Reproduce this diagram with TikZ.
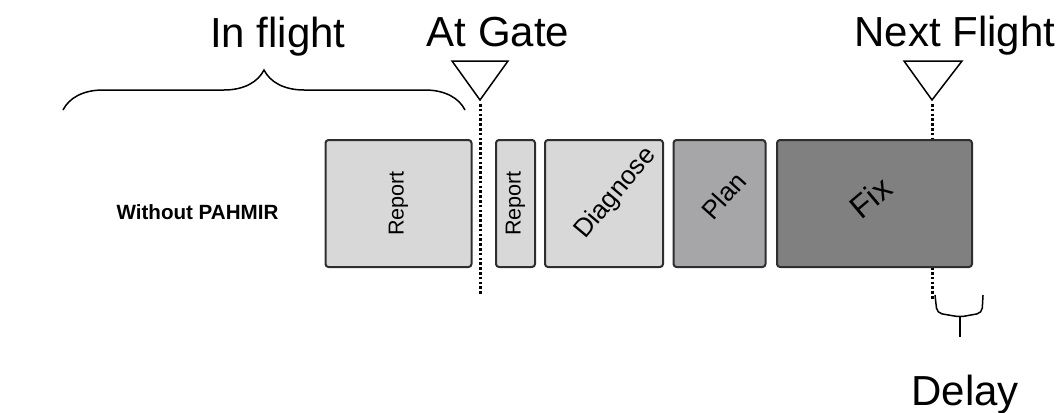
\documentclass[tikz,border=0pt]{standalone}
\usepackage{fontspec}
\setmainfont{Liberation Sans}
\usetikzlibrary{decorations.pathreplacing}

\definecolor{lightbox}{HTML}{D8D8D8}
\definecolor{midbox}{HTML}{A6A6A8}
\definecolor{darkbox}{HTML}{808080}
\definecolor{edge}{HTML}{2E2E2E}

\tikzset{
  taskbox/.style={draw=edge, line width=1pt, rounded corners=1.5pt, inner sep=0pt, minimum height=63.5pt},
  tasklabel/.style={inner sep=0pt, font=\fontsize{10.8}{12}\selectfont},
  marker/.style={draw, line width=0.75pt, line join=miter},
  gateline/.style={line width=1.5pt, dash pattern=on 1.3pt off 1.1pt},
  bigtext/.style={anchor=base, inner sep=0pt, font=\fontsize{21}{24}\selectfont},
}

\begin{document}
\begin{tikzpicture}[x=0.5pt, y=-0.5pt]
\useasboundingbox (0,0) rectangle (1064,412);

% milestones
\coordinate (gateL) at (452,61);
\coordinate (gateR) at (508,61);
\coordinate (gateTip) at (480,100);
\coordinate (gateEnd) at (480,295);
\coordinate (nextL) at (904,61);
\coordinate (nextR) at (962,61);
\coordinate (nextTip) at (932,100);
\coordinate (nextEnd) at (932,300);

\draw[marker] (gateL) -- (gateR) -- (gateTip) -- cycle;
\draw[marker] (nextL) -- (nextR) -- (nextTip) -- cycle;
\draw[gateline] (gateTip) ++(0,4) -- (gateEnd);
\draw[gateline] (nextTip) ++(0,4) -- (nextEnd);

\node[bigtext] (inflight) at (278,47) {In flight};
\node[bigtext] (atgate) at (498,46) {At Gate};
\node[bigtext] (nextflight) at (955,46) {Next Flight};
\node[bigtext] (delay) at (965,405) {Delay};

% in flight brace
\draw[line width=0.75pt, decorate, decoration={brace, amplitude=20pt}] (63,110) -- (465,110);

% delay brace
\draw[line width=0.75pt, rounded corners=2.5pt] (935,295) -- (937,313) -- (960,317) -- (982,313) -- (983,295);
\draw[line width=0.75pt] (960,317) -- (960,337);

\node[anchor=base, inner sep=0pt, font=\bfseries\fontsize{10.3}{12}\selectfont] (without) at (197.5,219) {Without PAHMIR};

% tasks
\node[taskbox, fill=lightbox, minimum width=73pt] (report1) at (398.5,203.5) {};
\node[taskbox, fill=lightbox, minimum width=19.5pt] (report2) at (515.5,203.5) {};
\node[taskbox, fill=lightbox, minimum width=59pt] (diagnose) at (604,203.5) {};
\node[taskbox, fill=midbox, minimum width=46pt] (plan) at (719.5,203.5) {};
\node[taskbox, fill=darkbox, minimum width=97.5pt] (fix) at (874.5,203.5) {};

\node[tasklabel, rotate=90] at (report1.center) {Report};
\node[tasklabel, rotate=90] at (report2.center) {Report};
\node[tasklabel, rotate=50, font=\fontsize{13}{15}\selectfont] at ([xshift=6pt, yshift=5pt]diagnose.center) {Diagnose};
\node[tasklabel, rotate=48, font=\fontsize{13}{15}\selectfont] at ([xshift=2pt, yshift=4pt]plan.center) {Plan};
\node[tasklabel, rotate=40, font=\fontsize{16}{18}\selectfont] at ([xshift=-2pt, yshift=3pt]fix.center) {Fix};

\end{tikzpicture}
\end{document}
